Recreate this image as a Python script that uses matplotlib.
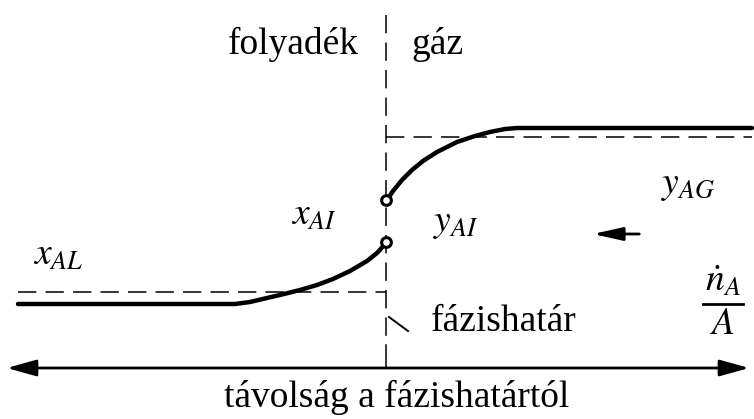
import numpy as np
import matplotlib.pyplot as plt
from matplotlib.patches import FancyArrowPatch

plt.rcParams['font.family'] = ['Liberation Serif', 'DejaVu Serif']
plt.rcParams['mathtext.fontset'] = 'stix'

# concentration profiles (drawing units, y grows downward)
liq_x = [18, 235, 250, 267, 284, 300, 317, 333, 350, 367, 377, 386]
liq_y = [304, 304, 302, 298, 294, 290, 285, 279, 271, 261, 253, 243]
gas_x = [387, 393, 402, 412, 423, 437, 457, 475, 490, 505, 517, 752]
gas_y = [200, 191, 180, 170, 161, 152, 142, 136, 132, 129, 128, 128]

# bulk levels and interface
x_bulk_liq = 292
y_bulk_gas = 137
interface_x = 386
x_interface_val = 242
y_interface_val = 200

fig = plt.figure(figsize=(7.54, 4.19), dpi=100)
ax = fig.add_axes([0, 0, 1, 1])
ax.set_xlim(0, 754)
ax.set_ylim(419, 0)
ax.axis('off')

dash = dict(color='black', lw=1.1, dashes=(12, 6))
ax.plot([18, interface_x], [x_bulk_liq, x_bulk_liq], **dash)
ax.plot([interface_x, 752], [y_bulk_gas, y_bulk_gas], **dash)
ax.plot([interface_x, interface_x], [15, 345], **dash)
ax.plot([interface_x, interface_x], [345, 368], color='black', lw=1.1)

ax.plot(liq_x, liq_y, color='black', lw=3.2, solid_capstyle='round', solid_joinstyle='round')
ax.plot(gas_x, gas_y, color='black', lw=3.2, solid_capstyle='round', solid_joinstyle='round')
ax.plot([interface_x, interface_x], [x_interface_val, y_interface_val], ls='none',
        marker='o', ms=7, mfc='white', mec='black', mew=2.2)

# distance axis
ax.add_patch(FancyArrowPatch((4, 368), (752, 368), arrowstyle='<|-|>,head_length=18,head_width=5',
                             color='black', lw=2, mutation_scale=1))
# flux direction
ax.add_patch(FancyArrowPatch((642, 234), (590, 234), arrowstyle='-|>,head_length=18,head_width=4',
                             color='black', lw=2, mutation_scale=1))
# pointer to the interface
ax.plot([389, 408], [317, 331], color='black', lw=1.4)

fs = 27
ax.text(293, 44, 'folyadék', fontsize=27, ha='center', va='center')
ax.text(411, 44, 'gáz', fontsize=27, ha='left', va='center')
ax.text(431, 322, 'fázishatár', fontsize=27, ha='left', va='center')
ax.text(397, 397, 'távolság a fázishatártól', fontsize=27, ha='center', va='center')
ax.text(33, 256, r'$x_{AL}$', fontsize=fs, ha='left', va='center')
ax.text(291, 216, r'$x_{AI}$', fontsize=fs, ha='left', va='center')
ax.text(433, 224, r'$y_{AI}$', fontsize=fs, ha='left', va='center')
ax.text(661, 186, r'$y_{AG}$', fontsize=fs, ha='left', va='center')

# molar flux per area, written as a stacked fraction
ax.text(723, 282, r'$\dot{n}_A$', fontsize=fs, ha='center', va='center')
ax.plot([703, 743], [304, 304], color='black', lw=2)
ax.text(723, 325, r'$A$', fontsize=fs, ha='center', va='center')

fig.savefig('out.png', dpi=100)
